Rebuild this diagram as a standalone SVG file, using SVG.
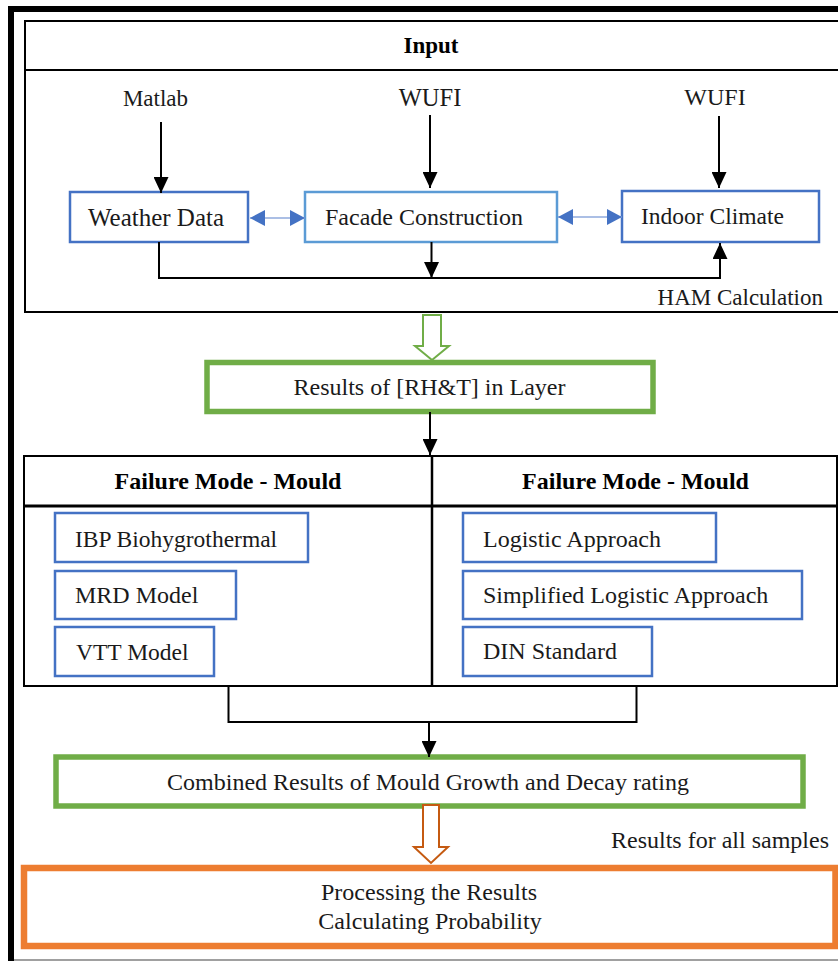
<svg xmlns="http://www.w3.org/2000/svg" width="838" height="961" viewBox="0 0 838 961">
<style>
  text { font-family: "Liberation Serif", "Times New Roman", serif; font-size: 24px; fill: #1a1a1a; }
  .b { font-weight: bold; fill: #000; }
  .m { text-anchor: middle; }
  .frame { fill: none; stroke: #000; stroke-width: 2; }
  .blue { fill: #fff; stroke: #4472C4; stroke-width: 2.5; }
  .lblue { fill: #fff; stroke: #5B9BD5; stroke-width: 2.5; }
  .green { fill: #fff; stroke: #70AD47; stroke-width: 5.5; }
  .orange { fill: #fff; stroke: #ED7D31; stroke-width: 6.5; }
  .conn { fill: none; stroke: #000; stroke-width: 2; }
  .dbl { fill: none; stroke: #8FAADC; stroke-width: 1.5; }
</style>
<defs>
  <marker id="ah" viewBox="0 0 16 15" refX="16" refY="7.5" markerWidth="16" markerHeight="15" markerUnits="userSpaceOnUse" orient="auto">
    <path d="M0,0 L16,7.5 L0,15 Z" fill="#000"/>
  </marker>
  <marker id="bh" viewBox="0 0 15 16" refX="15" refY="8" markerWidth="15" markerHeight="16" markerUnits="userSpaceOnUse" orient="auto-start-reverse">
    <path d="M0,0 L15,8 L0,16 Z" fill="#4472C4"/>
  </marker>
</defs>

<!-- outer page frame -->
<rect x="8" y="6" width="832" height="6" fill="#000"/>
<rect x="8" y="6" width="6" height="957" fill="#000"/>
<line x1="14" y1="960" x2="838" y2="960" stroke="#808080" stroke-width="1.5"/>

<!-- Input container -->
<g id="input-panel">
  <rect class="frame" x="25" y="21" width="830" height="291"/>
  <line class="frame" x1="25" y1="70" x2="840" y2="70"/>
  <text class="b m" x="431" y="53" style="font-size:23px">Input</text>
  <text x="823" y="305" text-anchor="end" style="font-size:23px">HAM Calculation</text>
</g>

<g id="matlab"><text class="m" x="155.5" y="106" style="font-size:23px">Matlab</text></g>
<g id="wufi1"><text class="m" x="430" y="106" style="font-size:24.5px">WUFI</text></g>
<g id="wufi2"><text class="m" x="715" y="105">WUFI</text></g>

<g id="weather-data">
  <rect class="blue" x="70" y="192" width="178" height="50"/>
  <text class="m" x="156" y="226" style="font-size:25px">Weather Data</text>
</g>
<g id="facade-construction">
  <rect class="lblue" x="305" y="192" width="252" height="50"/>
  <text class="m" x="424" y="225">Facade Construction</text>
</g>
<g id="indoor-climate">
  <rect class="blue" x="622" y="191" width="197" height="51"/>
  <text class="m" x="712.5" y="224" style="font-size:23.5px">Indoor Climate</text>
</g>

<g id="results-layer">
  <rect class="green" x="207" y="362.5" width="446" height="49"/>
  <text class="m" x="429.5" y="395">Results of [RH&amp;T] in Layer</text>
</g>

<!-- Failure mode container -->
<g id="failure-panel">
  <rect class="frame" x="24" y="456" width="813" height="230"/>
  <line x1="24" y1="506" x2="838" y2="506" stroke="#000" stroke-width="3"/>
  <line x1="432" y1="456" x2="432" y2="686" stroke="#000" stroke-width="2.5"/>
  <text class="b m" x="228" y="489">Failure Mode - Mould</text>
  <text class="b m" x="635.5" y="489">Failure Mode - Mould</text>
</g>

<g id="ibp">
  <rect class="blue" x="55" y="513" width="253" height="49" stroke-width="2"/>
  <text x="75" y="547" style="font-size:23.5px">IBP Biohygrothermal</text>
</g>
<g id="mrd">
  <rect class="blue" x="55" y="571" width="181" height="48" stroke-width="2"/>
  <text x="75" y="603">MRD Model</text>
</g>
<g id="vtt">
  <rect class="blue" x="55" y="627" width="159" height="49" stroke-width="2"/>
  <text x="76" y="660" style="font-size:23.5px">VTT Model</text>
</g>
<g id="logistic">
  <rect class="blue" x="463" y="513" width="253" height="49" stroke-width="2"/>
  <text x="483" y="547">Logistic Approach</text>
</g>
<g id="simplified-logistic">
  <rect class="blue" x="463" y="571" width="339" height="48" stroke-width="2"/>
  <text x="483" y="603">Simplified Logistic Approach</text>
</g>
<g id="din">
  <rect class="blue" x="463" y="627" width="189" height="49" stroke-width="2"/>
  <text x="483" y="659">DIN Standard</text>
</g>

<g id="combined-results">
  <rect class="green" x="56" y="757" width="747" height="49" stroke-width="6"/>
  <text class="m" x="428" y="790">Combined Results of Mould Growth and Decay rating</text>
</g>

<g id="samples-label"><text x="829" y="848" text-anchor="end">Results for all samples</text></g>

<g id="processing">
  <rect class="orange" x="24" y="868" width="811.5" height="78"/>
  <text class="m" x="429" y="900">Processing the Results</text>
  <text class="m" x="430" y="929">Calculating Probability</text>
</g>

<!-- connectors -->
<g id="connectors">
  <line class="conn" x1="161" y1="122" x2="161" y2="193" marker-end="url(#ah)"/>
  <line class="conn" x1="430" y1="115" x2="430" y2="188" marker-end="url(#ah)"/>
  <line class="conn" x1="719" y1="116" x2="719" y2="188" marker-end="url(#ah)"/>
  <line class="dbl" x1="250" y1="218" x2="305" y2="218" marker-start="url(#bh)" marker-end="url(#bh)"/>
  <line class="dbl" x1="558" y1="217" x2="622" y2="217" marker-start="url(#bh)" marker-end="url(#bh)"/>
  <path class="conn" d="M159,242 V278 H720 V243" marker-end="url(#ah)"/>
  <line class="conn" x1="431.5" y1="242" x2="431.5" y2="278" marker-end="url(#ah)"/>
  <polygon points="423,315 441,315 441,346 449,346 432,360 415,346 423,346" fill="#fff" stroke="#70AD47" stroke-width="2"/>
  <line class="conn" x1="430" y1="412" x2="430" y2="455" marker-end="url(#ah)"/>
  <path class="conn" d="M228.5,686 V722 H636.5 V686"/>
  <line class="conn" x1="429" y1="722" x2="429" y2="757" marker-end="url(#ah)"/>
  <polygon points="423,805 439,805 439,847 448,847 431,863 414,847 423,847" fill="#fff" stroke="#C55A11" stroke-width="2"/>
</g>
</svg>
